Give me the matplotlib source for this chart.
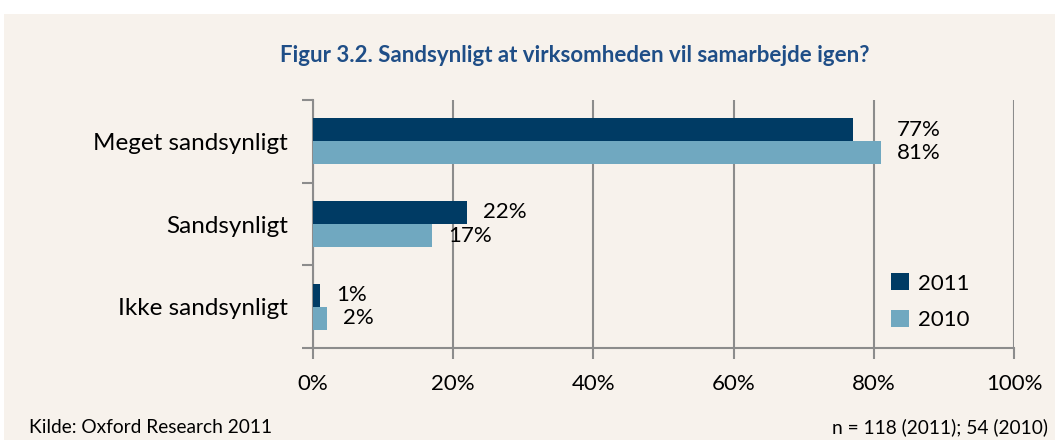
import matplotlib.pyplot as plt
from matplotlib.patches import Rectangle
import numpy as np

# data
categories = ['Meget sandsynligt', 'Sandsynligt', 'Ikke sandsynligt']
v2011 = [77, 22, 1]
v2010 = [81, 17, 2]
xticks = [0, 20, 40, 60, 80, 100]

plt.rcParams['font.family'] = ['Lato', 'DejaVu Sans']

bg = '#F7F2EC'
dark = '#003B64'
light = '#70A8C0'
grid = '#8C8C8C'

fig = plt.figure(figsize=(10.55, 4.4), dpi=100)
fig.patch.set_facecolor('white')
fig.patches.append(Rectangle((4 / 1055, 0), 1, 1 - 14 / 440, transform=fig.transFigure,
                             facecolor=bg, edgecolor='none', zorder=-10))

ax = fig.add_axes([313 / 1055, 92 / 440, 701 / 1055, 248 / 440])
ax.set_facecolor(bg)
ax.patch.set_alpha(0)

y = np.arange(len(categories))
h = 0.28
ax.barh(y - h / 2, v2011, height=h, color=dark, label='2011', zorder=3)
ax.barh(y + h / 2, v2010, height=h, color=light, label='2010', zorder=3)

# value labels
off = 2.3
for i in range(len(categories)):
    a, b = v2011[i], v2010[i]
    xa = a + off if a + off > b else b + off
    ax.text(xa, y[i] - h / 2, '%d%%' % a, va='center', ha='left', fontsize=16, zorder=4)
    ax.text(b + off, y[i] + h / 2, '%d%%' % b, va='center', ha='left', fontsize=16, zorder=4)

ax.set_xlim(0, 100)
ax.set_ylim(2.5, -0.5)
ax.set_xticks(xticks)
ax.set_xticklabels(['%d%%' % t for t in xticks], fontsize=16)
ax.set_yticks(y)
ax.set_yticklabels(categories, fontsize=17.5)
ax.set_yticks([-0.5, 0.5, 1.5, 2.5], minor=True)
ax.tick_params(axis='y', which='major', length=0, pad=18)
ax.tick_params(axis='y', which='minor', length=8, color=grid, width=1.5)
ax.tick_params(axis='x', length=8, color=grid, width=1.5, pad=11)
ax.grid(axis='x', color=grid, linewidth=1.5, zorder=0)
for s in ['top', 'right']:
    ax.spines[s].set_visible(False)
for s in ['left', 'bottom']:
    ax.spines[s].set_color(grid)
    ax.spines[s].set_linewidth(1.5)

leg = ax.legend(loc='lower right', bbox_to_anchor=(0.965, -0.01), frameon=False, fontsize=16,
                handlelength=0.8, handleheight=0.8, handletextpad=0.4, labelspacing=0.75)

fig.text(575 / 1055, 1 - 55 / 440, 'Figur 3.2. Sandsynligt at virksomheden vil samarbejde igen?',
         ha='center', va='center', fontsize=16, fontweight='bold', color='#1F4E87')
fig.text(29 / 1055, 1 - 427 / 440, 'Kilde: Oxford Research 2011', ha='left', va='center', fontsize=13.8)
fig.text(1048 / 1055, 1 - 427 / 440, 'n = 118 (2011); 54 (2010)', ha='right', va='center', fontsize=13.8)

fig.savefig('out.png', dpi=100, facecolor=fig.get_facecolor())
